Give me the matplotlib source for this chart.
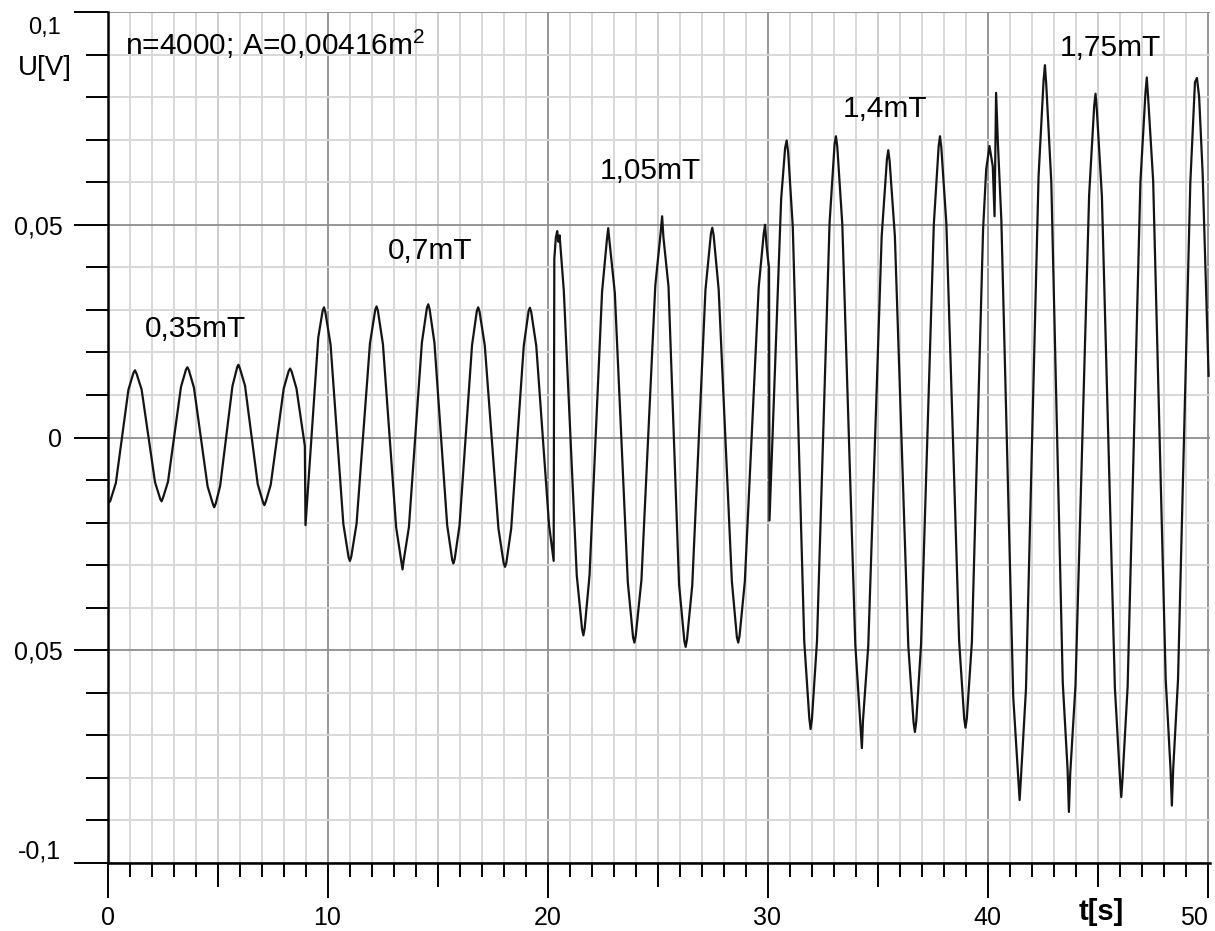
import matplotlib.pyplot as plt
import numpy as np
from matplotlib.ticker import MultipleLocator

plt.rcParams["font.family"] = ["Liberation Sans", "DejaVu Sans"]
plt.rcParams["mathtext.fontset"] = "custom"
plt.rcParams["mathtext.rm"] = "Liberation Sans"
plt.rcParams["mathtext.it"] = "Liberation Sans"

# Recorded induction voltage U[V] over time t[s], read off the trace,
# one pair of lists per step of the field strength
t_035 = [0.00, 0.05, 0.12, 0.38, 0.95, 1.18, 1.25, 1.32, 1.55, 2.16, 2.40, 2.46, 2.52, 2.75,
         3.34, 3.57, 3.63, 3.70, 3.93, 4.55, 4.80, 4.85, 4.92, 5.12, 5.68, 5.90, 5.95, 6.02,
         6.25, 6.83, 7.08, 7.13, 7.20, 7.42, 8.01, 8.24, 8.30, 8.37, 8.59, 8.97]
u_035 = [-0.0148, -0.0153, -0.0150, -0.0107, 0.0112, 0.0152, 0.0158, 0.0150, 0.0113, -0.0105,
         -0.0145, -0.0150, -0.0142, -0.0104, 0.0119, 0.0160, 0.0165, 0.0158, 0.0117, -0.0115,
         -0.0158, -0.0164, -0.0155, -0.0114, 0.0121, 0.0166, 0.0171, 0.0162, 0.0122, -0.0110,
         -0.0154, -0.0159, -0.0150, -0.0111, 0.0115, 0.0157, 0.0162, 0.0155, 0.0115, -0.0020]

t_070 = [9.00, 9.58, 9.78, 9.84, 9.90, 10.14, 10.72, 10.96, 11.02, 11.08, 11.32, 11.93, 12.17,
         12.23, 12.29, 12.52, 13.12, 13.36, 13.41, 13.46, 13.70, 14.29, 14.52, 14.58, 14.64,
         14.86, 15.44, 15.67, 15.72, 15.78, 16.00, 16.57, 16.79, 16.85, 16.91, 17.15, 17.77,
         18.01, 18.07, 18.13, 18.35, 18.92, 19.14, 19.20, 19.26, 19.49, 20.07, 20.28]
u_070 = [-0.0206, 0.0235, 0.0298, 0.0306, 0.0295, 0.0218, -0.0203, -0.0282, -0.0290, -0.0280,
         -0.0203, 0.0221, 0.0300, 0.0308, 0.0298, 0.0219, -0.0211, -0.0292, -0.0310, -0.0290,
         -0.0211, 0.0223, 0.0305, 0.0313, 0.0302, 0.0223, -0.0206, -0.0288, -0.0296, -0.0286,
         -0.0207, 0.0217, 0.0298, 0.0306, 0.0296, 0.0216, -0.0214, -0.0296, -0.0304, -0.0294,
         -0.0214, 0.0215, 0.0297, 0.0305, 0.0295, 0.0215, -0.0205, -0.0290]

t_105 = [20.31, 20.38, 20.44, 20.50, 20.55, 20.74, 21.33, 21.57, 21.63, 21.69, 21.91, 22.48,
         22.70, 22.76, 22.82, 23.06, 23.65, 23.89, 23.95, 24.01, 24.27, 24.90, 25.14, 25.21,
         25.27, 25.50, 25.98, 26.22, 26.28, 26.34, 26.58, 27.18, 27.43, 27.49, 27.55, 27.78,
         28.38, 28.61, 28.67, 28.73, 28.97, 29.60, 29.83, 29.89, 29.95, 30.02, 30.07]
u_105 = [0.0420, 0.0470, 0.0485, 0.0460, 0.0475, 0.0346, -0.0324, -0.0450, -0.0465, -0.0448,
         -0.0324, 0.0342, 0.0465, 0.0492, 0.0460, 0.0340, -0.0340, -0.0470, -0.0482, -0.0466,
         -0.0335, 0.0357, 0.0480, 0.0520, 0.0470, 0.0355, -0.0345, -0.0478, -0.0492, -0.0475,
         -0.0347, 0.0347, 0.0480, 0.0493, 0.0476, 0.0348, -0.0338, -0.0470, -0.0482, -0.0466,
         -0.0338, 0.0353, 0.0480, 0.0500, 0.0455, 0.0420, 0.0400]

t_140 = [30.09, 30.62, 30.80, 30.87, 30.94, 31.15, 31.67, 31.90, 31.96, 32.02, 32.25, 32.82,
         33.05, 33.11, 33.17, 33.40, 33.99, 34.22, 34.29, 34.34, 34.58, 35.19, 35.43, 35.49,
         35.55, 35.79, 36.40, 36.64, 36.70, 36.76, 36.98, 37.56, 37.78, 37.84, 37.90, 38.13,
         38.71, 38.94, 39.00, 39.06, 39.29]
u_140 = [-0.0195, 0.0560, 0.0680, 0.0698, 0.0670, 0.0494, -0.0479, -0.0660, -0.0685, -0.0662,
         -0.0478, 0.0503, 0.0690, 0.0708, 0.0685, 0.0501, -0.0486, -0.0670, -0.0730, -0.0665,
         -0.0490, 0.0473, 0.0655, 0.0675, 0.0650, 0.0473, -0.0490, -0.0670, -0.0692, -0.0668,
         -0.0486, 0.0501, 0.0685, 0.0708, 0.0682, 0.0503, -0.0478, -0.0660, -0.0682, -0.0660,
         -0.0481]

t_175 = [39.80, 39.94, 40.09, 40.24, 40.32, 40.39, 40.47, 40.63, 41.17, 41.40, 41.46, 41.52,
         41.75, 42.32, 42.55, 42.61, 42.67, 42.90, 43.42, 43.64, 43.70, 43.76, 44.00, 44.62,
         44.85, 44.91, 44.97, 45.20, 45.79, 46.02, 46.08, 46.14, 46.37, 46.95, 47.18, 47.24,
         47.30, 47.53, 48.10, 48.32, 48.38, 48.44, 48.66, 49.22, 49.43, 49.52, 49.62, 49.78,
         50.05]
u_175 = [0.0490, 0.0630, 0.0685, 0.0637, 0.0520, 0.0810, 0.0695, 0.0510, -0.0610, -0.0800,
         -0.0852, -0.0800, -0.0590, 0.0613, 0.0840, 0.0875, 0.0830, 0.0600, -0.0575, -0.0780,
         -0.0880, -0.0790, -0.0582, 0.0570, 0.0780, 0.0808, 0.0770, 0.0567, -0.0588, -0.0800,
         -0.0845, -0.0800, -0.0585, 0.0600, 0.0810, 0.0846, 0.0800, 0.0603, -0.0568, -0.0780,
         -0.0865, -0.0780, -0.0569, 0.0600, 0.0835, 0.0845, 0.0800, 0.0620, 0.0145]

field_labels = ["0,35mT", "0,7mT", "1,05mT", "1,4mT", "1,75mT"]
label_t = [1.70, 12.74, 22.38, 33.42, 43.27]
label_u = [0.0236, 0.0419, 0.0607, 0.0753, 0.0896]

x_ticks = [0, 10, 20, 30, 40, 50]
x_tick_labels = ["0", "10", "20", "30", "40", "50"]
y_ticks = [-0.1, -0.05, 0, 0.05, 0.1]
y_tick_labels = ["", "0,05", "0", "0,05", ""]

t = t_035 + t_070 + t_105 + t_140 + t_175
u = u_035 + u_070 + u_105 + u_140 + u_175

fig = plt.figure(figsize=(12.15, 9.31), dpi=100)
ax = fig.add_axes([107.5 / 1215, 1 - 863 / 931, (1209.7 - 107.5) / 1215, (863 - 12) / 931])

light = "#d6d6d6"
dark = "#8e8e8e"

ax.set_xlim(0, 50.1)
ax.set_ylim(-0.1, 0.1)

ax.set_xticks(x_ticks)
ax.set_xticklabels(x_tick_labels)
ax.xaxis.set_minor_locator(MultipleLocator(1))
ax.set_yticks(y_ticks)
ax.set_yticklabels(y_tick_labels)
ax.yaxis.set_minor_locator(MultipleLocator(0.01))

ax.grid(which="minor", color=light, lw=1.3, zorder=0)
ax.grid(which="major", color=dark, lw=1.3, zorder=1)
for x5 in np.arange(5, 50, 10):
    ax.axvline(x5, color=dark, lw=1.3, zorder=1)

for side in ["top", "right"]:
    ax.spines[side].set_visible(False)
for side in ["left", "bottom"]:
    ax.spines[side].set_linewidth(1.8)
    ax.spines[side].set_zorder(4)

ax.tick_params(axis="y", which="major", length=24.5, width=1.4, pad=8, labelsize=18)
ax.tick_params(axis="y", which="minor", length=15.8, width=1.4)
ax.tick_params(axis="x", which="major", length=25, width=1.4, pad=6, labelsize=18)
ax.tick_params(axis="x", which="minor", length=10, width=1.4)
ax.get_xticklabels()[-1].set_ha("right")

# medium ticks every 5 s
sec = ax.secondary_xaxis("bottom")
sec.set_xticks([5, 15, 25, 35, 45])
sec.tick_params(length=17.3, width=1.4, labelbottom=False)
sec.spines["bottom"].set_visible(False)

ax.plot(t, u, color="#141414", lw=1.6, zorder=3)

for lab, lt, lu in zip(field_labels, label_t, label_u):
    ax.text(lt, lu, lab, fontsize=21.5, ha="left", va="baseline", zorder=5)

ax.text(0.80, 0.0899, r"n=4000; A=0,00416m$^2$", fontsize=21.5, ha="left", va="baseline", zorder=5)

fig.text(61 / 1215, 1 - 28 / 931, "0,1", fontsize=17, ha="right", va="center")
fig.text(61 / 1215, 1 - 852 / 931, "-0,1", fontsize=18, ha="right", va="center")
fig.text(72 / 1215, 1 - 68 / 931, "U[V]", fontsize=20, ha="right", va="center")
fig.text(1079 / 1215, 1 - 912 / 931, "t[s]", fontsize=21, fontweight="bold", ha="left", va="center")

fig.savefig("out.png", dpi=100, facecolor="white")
